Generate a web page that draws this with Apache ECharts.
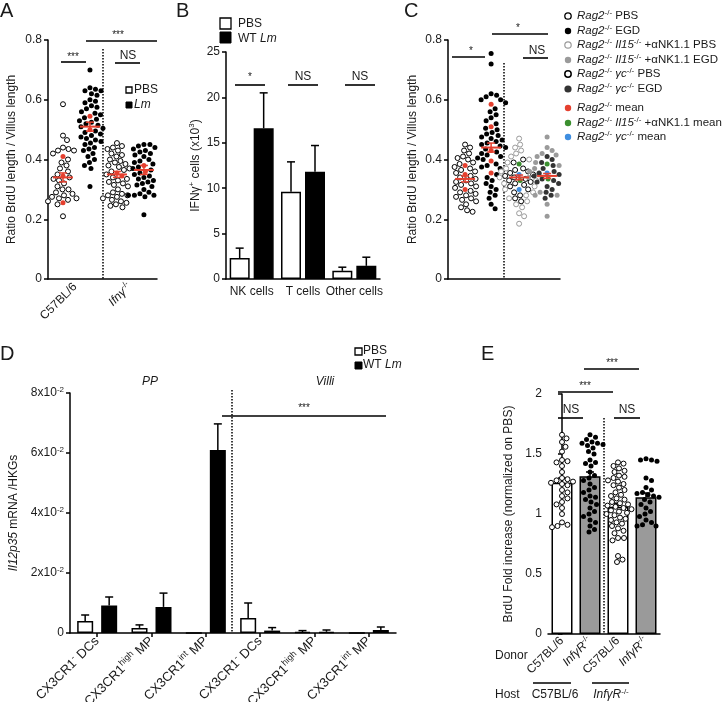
<!DOCTYPE html>
<html><head><meta charset="utf-8">
<script src="https://cdn.jsdelivr.net/npm/echarts/dist/echarts.min.js"></script>
<style>html,body{margin:0;padding:0;background:#fff}#c{width:726px;height:702px}</style>
</head><body><div id="c"></div>
<script>
// ================= DATA =================
// Panel A : ratio BrdU length / villus length
const aCategories = ['C57BL/6', '{i|Ifnγ}{s|-/-}'];
const aC57Pbs = [0.585,0.48,0.465,0.44,0.435,0.43,0.43,0.42,0.40,0.39,0.38,0.37,0.36,0.35,0.34,0.335,0.33,0.32,0.31,0.30,0.30,0.29,0.285,0.28,0.275,0.27,0.27,0.265,0.26,0.25,0.21];
const aC57Lm = [0.70,0.64,0.635,0.63,0.63,0.62,0.615,0.60,0.595,0.59,0.58,0.575,0.57,0.56,0.555,0.55,0.54,0.535,0.53,0.525,0.52,0.515,0.51,0.505,0.495,0.49,0.485,0.48,0.475,0.47,0.465,0.46,0.455,0.45,0.44,0.435,0.43,0.42,0.41,0.40,0.39,0.38,0.37,0.31];
const aIfnPbs = [0.455,0.445,0.44,0.435,0.43,0.42,0.415,0.41,0.40,0.395,0.39,0.385,0.38,0.375,0.37,0.365,0.36,0.35,0.34,0.335,0.33,0.325,0.32,0.315,0.31,0.30,0.29,0.285,0.28,0.28,0.275,0.27,0.265,0.26,0.255,0.25,0.245,0.24];
const aIfnLm = [0.45,0.45,0.445,0.44,0.435,0.43,0.425,0.42,0.415,0.41,0.40,0.395,0.39,0.385,0.375,0.37,0.365,0.355,0.35,0.345,0.34,0.335,0.33,0.325,0.32,0.315,0.31,0.30,0.29,0.285,0.28,0.28,0.28,0.275,0.215];
const aMouseMeans = [[0.41,0.345,0.255],[0.545,0.50],[0.355,0.345],[0.38,0.36]];
const aMeans = [0.34, 0.51, 0.35, 0.365];
const aSems = [0.015, 0.015, 0.01, 0.015];

// Panel B : IFNγ+ cells (x10^3)
const bCategories = ['NK cells', 'T cells', 'Other cells'];
const bPbs = [2.3, 9.6, 0.9];
const bPbsErr = [1.1, 3.3, 0.4];
const bLm = [16.6, 11.8, 1.45];
const bLmErr = [3.9, 2.9, 0.95];

// Panel C : ratio BrdU length / villus length
const cRagPbs = [0.45,0.44,0.43,0.42,0.41,0.405,0.40,0.39,0.385,0.375,0.37,0.365,0.36,0.355,0.345,0.34,0.335,0.33,0.325,0.32,0.315,0.31,0.305,0.295,0.29,0.285,0.28,0.275,0.27,0.265,0.26,0.25,0.24,0.23,0.225];
const cRagEgd = [0.755,0.72,0.62,0.615,0.61,0.60,0.60,0.59,0.57,0.56,0.55,0.54,0.53,0.52,0.505,0.50,0.49,0.485,0.48,0.475,0.47,0.465,0.46,0.455,0.45,0.445,0.44,0.435,0.425,0.42,0.415,0.41,0.405,0.40,0.385,0.38,0.375,0.37,0.35,0.34,0.33,0.32,0.31,0.30,0.29,0.28,0.27,0.25,0.235];
const cIl15Pbs = [0.47,0.45,0.44,0.43,0.42,0.41,0.40,0.39,0.37,0.36,0.35,0.34,0.33,0.32,0.31,0.30,0.29,0.28,0.27,0.26,0.25,0.24,0.22,0.21,0.185];
const cGcPbs = [0.40,0.39,0.37,0.365,0.36,0.355,0.35,0.345,0.34,0.335,0.33,0.325,0.32,0.315,0.31,0.30,0.29,0.28,0.27,0.26];
const cIl15Egd = [0.475,0.44,0.43,0.42,0.415,0.41,0.40,0.39,0.38,0.37,0.36,0.35,0.34,0.33,0.29,0.28,0.28,0.25,0.21];
const cGcEgd = [0.41,0.40,0.39,0.38,0.37,0.36,0.355,0.35,0.345,0.34,0.335,0.33,0.325,0.32,0.31,0.30,0.29,0.28,0.27];
const cRagMouseMeans = [[0.38,0.35,0.30],[0.585,0.51,0.43,0.395,0.355],[],[]];
const cIl15MouseMeans = [[],[],[0.385,0.33],[0.385,0.335]];
const cGcMouseMeans = [[],[],[0.35,0.30],[0.355]];
const cMeans = [0.335, 0.44, 0.34, 0.345];
const cSems = [0.01, 0.015, 0.008, 0.008];
const cLegendLabels = [
  '{i|Rag2}{s|-/-} PBS',
  '{i|Rag2}{s|-/-} EGD',
  '{i|Rag2}{s|-/-} {i|Il15}{s|-/-} +αNK1.1 PBS',
  '{i|Rag2}{s|-/-} {i|Il15}{s|-/-} +αNK1.1 EGD',
  '{i|Rag2}{s|-/-} {i|γc}{s|-/-} PBS',
  '{i|Rag2}{s|-/-} {i|γc}{s|-/-} EGD',
  '{i|Rag2}{s|-/-} mean',
  '{i|Rag2}{s|-/-} {i|Il15}{s|-/-} +αNK1.1 mean',
  '{i|Rag2}{s|-/-} {i|γc}{s|-/-} mean'
];

// Panel D : Il12p35 mRNA / HKGs
const dCategories = ['CX3CR1{s|-} DCs', 'CX3CR1{s|high} MP', 'CX3CR1{s|int} MP', 'CX3CR1{s|-} DCs', 'CX3CR1{s|high} MP', 'CX3CR1{s|int} MP'];
const dPbs = [0.0040, 0.0017, 0, 0.0050, 0.0003, 0];
const dPbsErr = [0.0020, 0.0010, 0, 0.0050, 0.0005, 0];
const dLm = [0.0092, 0.0087, 0.0610, 0.0008, 0.0004, 0.0010];
const dLmErr = [0.0028, 0.0046, 0.0087, 0.0010, 0.0006, 0.0010];

// Panel E : BrdU fold increase (normalized on PBS)
const eCategories = ['C57BL/6', '{i|InfγR}{s|-/-}', 'C57BL/6', '{i|InfγR}{s|-/-}'];
const eMeans = [1.26, 1.315, 1.06, 1.14];
const eSems = [0.04, 0.035, 0.03, 0.035];
const eG1 = [1.66,1.63,1.60,1.56,1.52,1.45,1.44,1.43,1.40,1.35,1.30,1.29,1.28,1.27,1.26,1.25,1.24,1.20,1.18,1.15,1.13,1.10,1.08,1.05,1.00,0.93,0.91,0.90,0.89];
const eG2 = [1.66,1.64,1.62,1.60,1.59,1.59,1.58,1.57,1.55,1.52,1.50,1.45,1.43,1.42,1.40,1.35,1.32,1.30,1.28,1.25,1.22,1.20,1.18,1.15,1.14,1.12,1.10,1.08,1.05,1.02,1.00,0.98,0.95,0.93,0.90,0.87,0.85];
const eG3 = [1.43,1.42,1.40,1.38,1.36,1.35,1.32,1.31,1.30,1.28,1.27,1.25,1.24,1.22,1.20,1.18,1.16,1.15,1.13,1.12,1.10,1.09,1.08,1.07,1.06,1.05,1.04,1.03,1.02,1.01,1.00,0.99,0.97,0.96,0.95,0.93,0.92,0.90,0.88,0.86,0.84,0.80,0.80,0.78,0.65,0.62,0.60];
const eG4 = [1.46,1.45,1.45,1.44,1.30,1.28,1.22,1.20,1.18,1.17,1.16,1.15,1.14,1.12,1.10,1.08,1.05,1.02,1.00,0.98,0.95,0.93,0.91,0.90,0.90];

// ================= LAYOUT / STYLE =================
const FONT = '"Liberation Sans", Arial, Helvetica, sans-serif';
const FS = 12;
const TXT = '#1a1a1a';
const RED = '#e5402f', GREEN = '#3b8f2f', BLUE = '#3f8ee0', GREY = '#9a9a9a', DARK = '#333';
const richFor = (fs) => ({
  i: {fontStyle: 'italic', fontFamily: FONT, fontSize: fs, color: TXT},
  s: {fontSize: Math.round(fs * 0.68), fontFamily: FONT, color: TXT, padding: [0, 0, Math.round(fs * 0.6), 0]}
});
const RICH = richFor(FS);
const aPos = [0.55, 1.54, 2.53, 3.52], aPxX = 109 / 4, aPxY = 239 / 0.8;
const cPos = [0.61, 1.54, 2.54, 3.54], cPxX = 112 / 4, cPxY = 239 / 0.8;
const ePos = [0, 1, 2, 3], ePxX = 28, ePxY = 120;

// beeswarm: returns x offsets (px); prioritized items are placed first (near the centre)
function swarm(items, pxY, dx, dy) {
  const idx = items.map((v, i) => i).sort((a, b) => (items[b].p - items[a].p) || (items[b].v - items[a].v));
  const placed = [], off = new Array(items.length).fill(0);
  for (const i of idx) {
    const y = items[i].v * pxY;
    let best = 0;
    for (let k = 0; k < 400; k++) {
      const cand = (k % 2 === 1 ? 1 : -1) * Math.ceil(k / 2) * 0.5;
      let ok = true;
      for (const p of placed) {
        const ex = (p.x - cand) / dx, ey = (p.y - y) / dy;
        if (ex * ex + ey * ey < 1) { ok = false; break; }
      }
      if (ok) { best = cand; break; }
    }
    placed.push({x: best, y}); off[i] = best;
  }
  return off;
}
function buildSwarm(groups, centers, pxX, pxY, dx, dy) {
  const out = {};
  groups.forEach((parts, gi) => {
    const all = [];
    parts.forEach(p => p.vals.forEach(v => all.push({key: p.key, v, p: p.pri || 0})));
    const offs = swarm(all, pxY, dx, dy);
    all.forEach((a, j) => { (out[a.key] = out[a.key] || []).push([centers[gi] + offs[j] / pxX, a.v]); });
  });
  return out;
}

const aSw = buildSwarm([
  [{key: 'open', vals: aC57Pbs}, {key: 'red', vals: aMouseMeans[0], pri: 1}],
  [{key: 'fill', vals: aC57Lm}, {key: 'red', vals: aMouseMeans[1], pri: 1}],
  [{key: 'open', vals: aIfnPbs}, {key: 'red', vals: aMouseMeans[2], pri: 1}],
  [{key: 'fill', vals: aIfnLm}, {key: 'red', vals: aMouseMeans[3], pri: 1}]
], aPos, aPxX, aPxY, 5.6, 6.2);

const cSw = buildSwarm([
  [{key: 'ragPbs', vals: cRagPbs}, {key: 'red', vals: cRagMouseMeans[0], pri: 1}],
  [{key: 'ragEgd', vals: cRagEgd}, {key: 'red', vals: cRagMouseMeans[1], pri: 1}],
  [{key: 'gcPbs', vals: cGcPbs, pri: 1}, {key: 'il15Pbs', vals: cIl15Pbs}, {key: 'green', vals: cIl15MouseMeans[2], pri: 2}, {key: 'blue', vals: cGcMouseMeans[2], pri: 2}],
  [{key: 'gcEgd', vals: cGcEgd, pri: 1}, {key: 'il15Egd', vals: cIl15Egd}, {key: 'green', vals: cIl15MouseMeans[3], pri: 2}, {key: 'blue', vals: cGcMouseMeans[3], pri: 2}]
], cPos, cPxX, cPxY, 5.6, 6.0);

const eSw = buildSwarm([
  [{key: 'open', vals: eG1}], [{key: 'fill', vals: eG2}], [{key: 'open', vals: eG3}], [{key: 'fill', vals: eG4}]
], ePos, ePxX, ePxY, 5.6, 6.0);

function dots(xi, yi, data, fill, border, size, z) {
  return {type: 'scatter', xAxisIndex: xi, yAxisIndex: yi, data, symbol: 'circle', symbolSize: size || 5, z: z || 4,
    itemStyle: {color: fill, borderColor: border || fill, borderWidth: border ? 1 : 0, opacity: 1}, silent: true};
}
function meanSeries(xi, yi, centers, means, sems, halfW) {
  return {type: 'custom', xAxisIndex: xi, yAxisIndex: yi, z: 8, clip: false, silent: true,
    encode: {x: 0, y: 1},
    data: means.map((m, i) => [centers[i], m, sems[i]]),
    renderItem(params, api) {
      const x = api.value(0), m = api.value(1), s = api.value(2);
      const c = api.coord([x, m]), t = api.coord([x, m + s]), b = api.coord([x, m - s]);
      return {type: 'group', children: [
        {type: 'line', shape: {x1: c[0] - halfW, y1: c[1], x2: c[0] + halfW, y2: c[1]}, style: {stroke: RED, lineWidth: 2}},
        {type: 'line', shape: {x1: c[0], y1: t[1], x2: c[0], y2: b[1]}, style: {stroke: RED, lineWidth: 1.5}},
        {type: 'line', shape: {x1: c[0] - 4, y1: t[1], x2: c[0] + 4, y2: t[1]}, style: {stroke: RED, lineWidth: 1.5}},
        {type: 'line', shape: {x1: c[0] - 4, y1: b[1], x2: c[0] + 4, y2: b[1]}, style: {stroke: RED, lineWidth: 1.5}}
      ]};
    }};
}
function errSeries(xi, yi, vals, errs, offsetPx, capHalf) {
  return {type: 'custom', xAxisIndex: xi, yAxisIndex: yi, z: 1, clip: false, silent: true,
    encode: {x: 0, y: 1},
    data: vals.map((v, i) => [i, v, errs[i]]),
    renderItem(params, api) {
      const i = api.value(0), v = api.value(1), e = api.value(2);
      if (!e) return {type: 'group', children: []};
      const p = api.coord([i, v]), q = api.coord([i, v + e]);
      const x = p[0] + offsetPx;
      return {type: 'group', children: [
        {type: 'line', shape: {x1: x, y1: p[1], x2: x, y2: q[1]}, style: {stroke: '#000', lineWidth: 1.5}},
        {type: 'line', shape: {x1: x - capHalf, y1: q[1], x2: x + capHalf, y2: q[1]}, style: {stroke: '#000', lineWidth: 1.5}}
      ]};
    }};
}

const axisLine = {show: true, lineStyle: {color: '#000', width: 1.5}};
const tick = {show: true, inside: false, length: 4, lineStyle: {color: '#000', width: 1.5}};
const lbl = (extra) => Object.assign({color: TXT, fontSize: FS, fontFamily: FONT, rich: RICH}, extra || {});
function yAx(gi, max, interval, name, gap, extraLabel) {
  return {type: 'value', gridIndex: gi, min: 0, max, interval, axisLine, axisTick: tick, splitLine: {show: false},
    axisLabel: lbl(Object.assign({margin: 6}, extraLabel || {})),
    name, nameLocation: 'middle', nameGap: gap, nameRotate: 90,
    nameTextStyle: {color: TXT, fontSize: FS, fontFamily: FONT, rich: RICH}};
}

const L = (x1, y1, x2, y2, dash) => ({type: 'line', silent: true, shape: {x1, y1, x2, y2},
  style: {stroke: '#000', lineWidth: dash ? 1.5 : 1.6, lineDash: dash || null}});
const T = (x, y, text, o) => ({type: 'text', x, y, silent: true, rotation: (o && o.rot) || 0,
  style: Object.assign({text, fontSize: FS, fontFamily: FONT, fill: TXT, align: 'center', verticalAlign: 'middle',
    textAlign: 'center', textVerticalAlign: 'middle', rich: RICH}, (o && o.style) || {})});
const TL = (x, y, text, o) => T(x, y, text, {style: Object.assign({align: 'left', textAlign: 'left'}, o || {})});
const star = (x, y, t) => T(x, y, t, {style: {fontSize: 10}});
const DOT = [1.5, 1.5];
const rectOpen = (x, y, s) => ({type: 'rect', silent: true, shape: {x, y, width: s, height: s}, style: {fill: '#fff', stroke: '#000', lineWidth: 1.3}});
const rectFill = (x, y, s) => ({type: 'rect', silent: true, shape: {x, y, width: s, height: s}, style: {fill: '#000', stroke: '#000', lineWidth: 1}});
const circ = (x, y, r, fill, stroke, lw) => ({type: 'circle', silent: true, shape: {cx: x, cy: y, r}, style: {fill, stroke: stroke || null, lineWidth: lw || 0}});

const LEG_FS = 11.5;
const cLegendMarks = [
  ['#fff', '#000', 1.3], ['#000'], ['#fff', GREY, 1.2], [GREY], ['#fff', '#000', 1.5], [DARK], [RED], [GREEN], [BLUE]
];
const cLegendY = [16, 31, 45, 60, 74, 89, 108, 123, 137];
const cLegend = [];
cLegendLabels.forEach((t, i) => {
  const m = cLegendMarks[i];
  cLegend.push(circ(568, cLegendY[i], i === 5 ? 3.6 : 3.2, m[0], m[1], m[2]));
  cLegend.push(TL(577, cLegendY[i], t, {fontSize: LEG_FS, rich: richFor(LEG_FS)}));
});

const graphics = [
  // panel letters
  TL(0, 11, 'A', {fontSize: 20}), TL(176, 11, 'B', {fontSize: 20}), TL(404, 11, 'C', {fontSize: 20}),
  TL(0, 354, 'D', {fontSize: 20}), TL(481, 354, 'E', {fontSize: 20}),
  // A
  L(61, 62, 86, 62), star(73, 57, '***'), L(86, 41, 157, 41), star(118, 35, '***'),
  L(115, 63, 140, 63), T(128, 56, 'NS'), L(103, 49, 103, 279, DOT),
  rectOpen(126, 87, 6), TL(134, 90, 'PBS'), rectFill(126, 102, 6), TL(134, 105, '{i|Lm}'),
  // B
  rectOpen(220, 18, 11), TL(238, 24, 'PBS'), rectFill(220, 32, 11), TL(238, 39, 'WT {i|Lm}'),
  L(235, 85, 265, 85), T(250, 77, '*', {style: {fontSize: 10}}), L(288, 85, 318, 85), T(303, 77, 'NS'),
  L(345, 85, 375, 85), T(360, 77, 'NS'),
  // C
  L(452, 57, 485, 57), T(471, 51, '*', {style: {fontSize: 10}}), L(492, 34, 548, 34), T(518, 28, '*', {style: {fontSize: 10}}),
  L(523, 58, 548, 58), T(537, 51, 'NS'), L(504, 63, 504, 279, DOT),
  ...cLegend,
  // D
  rectOpen(355, 348, 7), TL(363, 351, 'PBS'), rectFill(355, 362, 7), TL(363, 365, 'WT {i|Lm}'),
  T(150, 382, '{i|PP}'), T(325, 382, '{i|Villi}'),
  L(222, 416, 386, 416), star(304, 408, '***'), L(232, 390, 232, 633, DOT),
  // E
  L(584, 369, 639, 369), star(612, 363, '***'), L(558, 392, 613, 392), star(585, 386, '***'),
  L(558, 418, 583, 418), T(571, 410, 'NS'), L(614, 418, 640, 418), T(627, 410, 'NS'),
  L(604, 418, 604, 634, DOT),
  TL(495, 656, 'Donor'), TL(495, 695, 'Host'),
  L(533, 683, 571, 683), L(592, 683, 629, 683),
  T(555, 695, 'C57BL/6'), T(611, 695, '{i|InfγR}{s|-/-}')
];

const gridBase = {containLabel: false, outerBoundsMode: 'none'};
const option = {
  animation: false,
  backgroundColor: '#fff',
  textStyle: {fontFamily: FONT},
  grid: [
    Object.assign({left: 48, top: 40, width: 109, height: 239}, gridBase),
    Object.assign({left: 226, top: 52, width: 154, height: 227}, gridBase),
    Object.assign({left: 448, top: 40, width: 112, height: 239}, gridBase),
    Object.assign({left: 70, top: 393, width: 326, height: 240}, gridBase),
    Object.assign({left: 548, top: 394, width: 112, height: 240}, gridBase)
  ],
  xAxis: [
    {type: 'category', gridIndex: 0, data: aCategories, axisLine, axisTick: {show: false}, axisLabel: lbl({rotate: 45, margin: 6, interval: 0})},
    {type: 'value', gridIndex: 0, min: 0, max: 4, show: false},
    {type: 'category', gridIndex: 1, data: bCategories, axisLine, axisTick: {show: false}, axisLabel: lbl({margin: 7, interval: 0})},
    {type: 'value', gridIndex: 2, min: 0, max: 4, axisLine, axisTick: {show: false}, axisLabel: {show: false}, splitLine: {show: false}},
    {type: 'category', gridIndex: 3, data: dCategories, axisLine, axisTick: Object.assign({alignWithLabel: true}, tick),
      axisLabel: Object.assign(lbl({rotate: 45, margin: 6, interval: 0}), {fontSize: 13, rich: richFor(13)})},
    {type: 'category', gridIndex: 4, data: eCategories, axisLine, axisTick: {show: false}, axisLabel: lbl({rotate: 45, margin: 5, interval: 0})},
    {type: 'value', gridIndex: 4, min: -0.5, max: 3.5, show: false}
  ],
  yAxis: [
    yAx(0, 0.8, 0.2, 'Ratio BrdU length / Villus length', 30),
    yAx(1, 25, 5, 'IFNγ{s|+} cells (x10{s|3})', 23),
    yAx(2, 0.8, 0.2, 'Ratio BrdU length / Villus length', 29),
    yAx(3, 0.08, 0.02, '{i|Il12p35} mRNA /HKGs', 50, {
      formatter: v => v === 0 ? '0' : Math.round(v * 100) + 'x10{s|-2}'}),
    yAx(4, 2, 0.5, 'BrdU Fold increase (normalized on PBS)', 33)
  ],
  graphic: {elements: graphics},
  series: [
    // A
    dots(1, 0, aSw.open, '#fff', '#000'),
    dots(1, 0, aSw.fill, '#000'),
    dots(1, 0, aSw.red, RED, null, 5, 6),
    meanSeries(1, 0, aPos, aMeans, aSems, 10),
    // B
    {type: 'bar', xAxisIndex: 2, yAxisIndex: 1, data: bPbs, barWidth: 20, barGap: '20%', z: 2, silent: true,
      itemStyle: {color: '#fff', borderColor: '#000', borderWidth: 1.5}},
    {type: 'bar', xAxisIndex: 2, yAxisIndex: 1, data: bLm, barWidth: 20, barGap: '20%', z: 2, silent: true,
      itemStyle: {color: '#000', borderColor: '#000', borderWidth: 1.5}},
    errSeries(2, 1, bPbs, bPbsErr, -12, 4),
    errSeries(2, 1, bLm, bLmErr, 12, 4),
    // C
    dots(3, 2, cSw.ragPbs, '#fff', '#000'),
    dots(3, 2, cSw.ragEgd, '#000'),
    dots(3, 2, cSw.il15Pbs, '#fff', GREY),
    dots(3, 2, cSw.gcPbs, '#fff', '#000'),
    dots(3, 2, cSw.il15Egd, GREY),
    dots(3, 2, cSw.gcEgd, DARK),
    dots(3, 2, cSw.red, RED, null, 5, 6),
    dots(3, 2, cSw.green, GREEN, null, 5, 6),
    dots(3, 2, cSw.blue, BLUE, null, 5, 6),
    meanSeries(3, 2, cPos, cMeans, cSems, 10),
    // D
    {type: 'bar', xAxisIndex: 4, yAxisIndex: 3, data: dPbs, barWidth: 16, barGap: '50%', z: 2, silent: true,
      itemStyle: {color: '#fff', borderColor: '#000', borderWidth: 1.5}},
    {type: 'bar', xAxisIndex: 4, yAxisIndex: 3, data: dLm, barWidth: 16, barGap: '50%', z: 2, silent: true,
      itemStyle: {color: '#000', borderColor: '#000', borderWidth: 1.5}},
    errSeries(4, 3, dPbs, dPbsErr, -12, 4),
    errSeries(4, 3, dLm, dLmErr, 12, 4),
    // E
    {type: 'bar', xAxisIndex: 5, yAxisIndex: 4, barWidth: 21, z: 2, silent: true,
      data: eMeans.map((v, i) => ({value: v, itemStyle: {color: i % 2 ? GREY : '#fff'}})),
      itemStyle: {borderColor: '#000', borderWidth: 1.5}},
    errSeries(5, 4, eMeans, eSems, 0, 4),
    dots(6, 4, eSw.open, '#fff', '#000'),
    dots(6, 4, eSw.fill, '#000')
  ]
};
const chart = echarts.init(document.getElementById('c'), null, {renderer: 'canvas'});
chart.setOption(option);
</script>
</body></html>
